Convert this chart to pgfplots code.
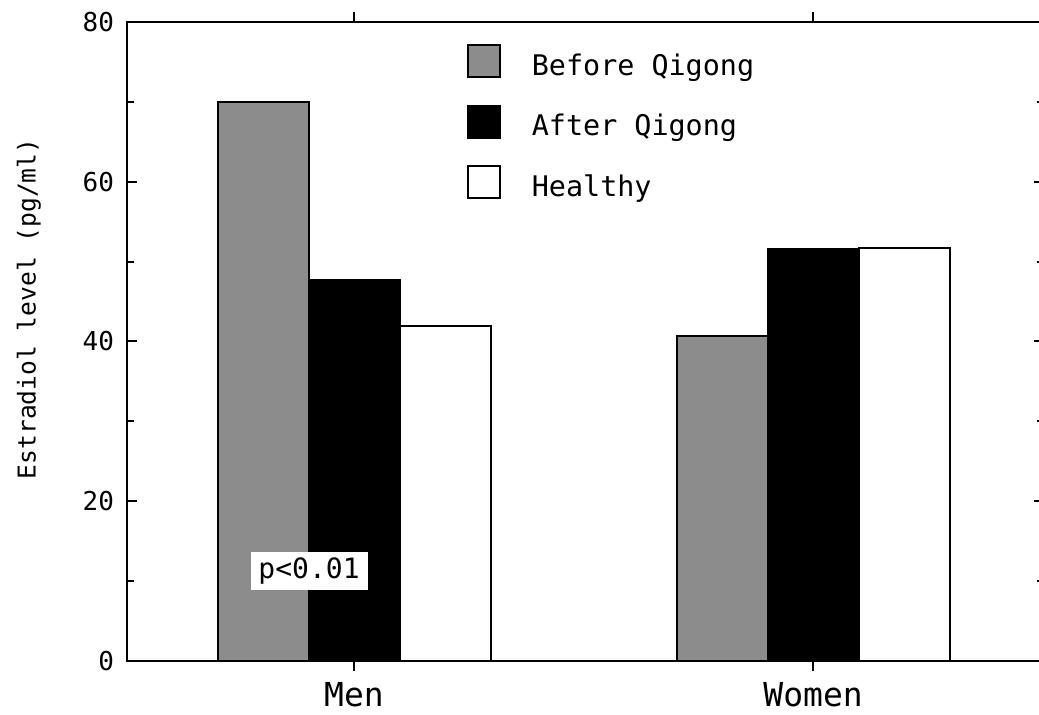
\documentclass[border=0pt]{standalone}
\usepackage{fontspec}
\setmainfont{DejaVu Sans Mono}
\usepackage{pgfplots}
\pgfplotsset{compat=1.18}

\begin{document}
\begin{tikzpicture}
\useasboundingbox (-63.5pt,-27pt) rectangle (456pt,330.5pt);
\begin{axis}[
  scale only axis, width=458.5pt, height=319.5pt,
  ybar=0pt, bar width=45.5pt,
  xmin=-0.4946, xmax=1.503, ymin=0, ymax=80,
  xtick={0,1}, xticklabels={Men,Women},
  ytick={0,20,...,80}, minor ytick={10,30,50,70},
  xtick pos=both, ytick pos=both, xticklabel pos=lower, yticklabel pos=left,
  xtick align=outside, ytick align=inside,
  major tick length=5pt, minor tick length=3.5pt,
  axis line style={line width=1pt},
  tick style={line width=1pt, black},
  /pgf/number format/assume math mode=true,
  yticklabel style={font=\fontsize{13pt}{15pt}\selectfont, xshift=-3pt},
  xticklabel style={font=\fontsize{16.5pt}{19pt}\selectfont, yshift=-2pt},
  ylabel={Estradiol level (pg/ml)},
  ylabel style={font=\fontsize{12.3pt}{14pt}\selectfont, at={(axis description cs:-0.107,0.551)}, anchor=center},
  legend image code/.code={\draw[#1, line width=1pt] (0pt,-5.5pt) rectangle (16pt,10.5pt); \path (31.5pt,0pt);},
  legend style={at={(axis description cs:0.3702,0.9656)}, anchor=north west, draw=none, fill=none,
    inner sep=0pt, row sep=13pt, font=\fontsize{14.2pt}{17pt}\selectfont, nodes={inner sep=0pt}},
  legend cell align=left,
]
\addplot[draw=black, line width=1pt, fill=black!45] coordinates {(0,70) (1,40.7)};
\addlegendentry{Before Qigong}
\addplot[draw=black, line width=1pt, fill=black] coordinates {(0,47.7) (1,51.6)};
\addlegendentry{After Qigong}
\addplot[draw=black, line width=1pt, fill=white] coordinates {(0,42) (1,51.7)};
\addlegendentry{Healthy}
\node[fill=white, inner sep=0pt, minimum width=58.5pt, minimum height=19pt,
  font=\fontsize{14pt}{17pt}\selectfont] at (axis cs:-0.098,11.26) {p<0.01};
\end{axis}
\end{tikzpicture}
\end{document}
